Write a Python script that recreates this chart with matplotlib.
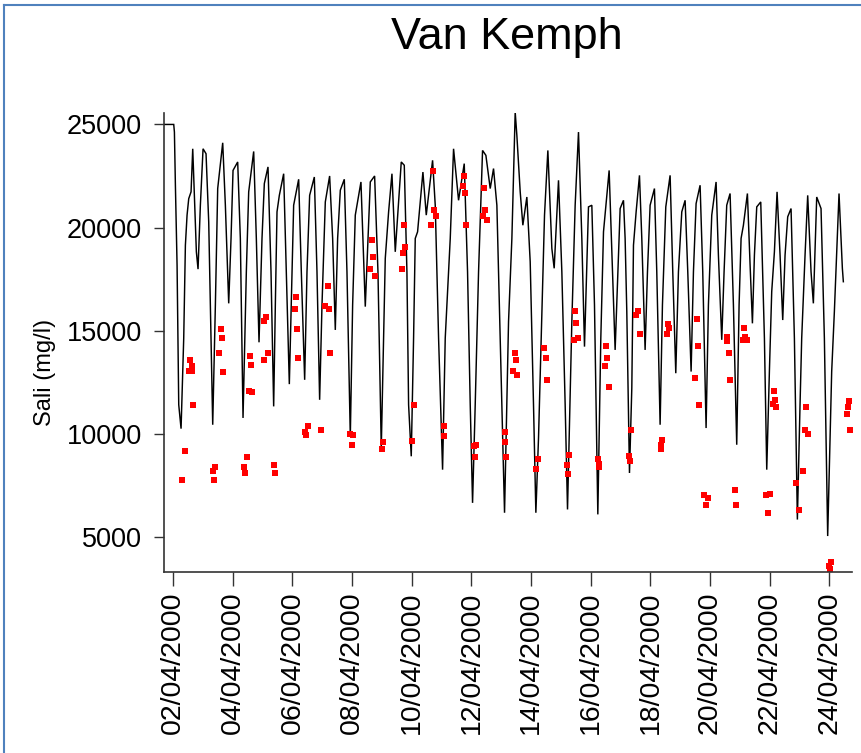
import matplotlib
matplotlib.use("Agg")
import matplotlib.pyplot as plt
import matplotlib.dates as mdates
from matplotlib.lines import Line2D
import numpy as np
import datetime as dt

plt.rcParams['font.family'] = ['Liberation Sans', 'DejaVu Sans']

# ---- data (days since 02/04/2000 00:00, salinity mg/l) ----
start_date = dt.datetime(2000, 4, 2)

line_days = [
    -0.292, 0.021, 0.044, 0.077, 0.133, 0.189, 0.267, 0.356, 0.412, 0.468, 0.524, 0.602, 0.658, 0.725,
    0.780, 0.836, 0.914, 1.004, 1.104, 1.194, 1.250, 1.328, 1.417, 1.495, 1.663, 1.752, 1.864, 1.942,
    2.009, 2.165, 2.254, 2.344, 2.455, 2.534, 2.701, 2.790, 2.880, 2.980, 3.058, 3.181, 3.282, 3.371,
    3.427, 3.483, 3.561, 3.706, 3.796, 3.896, 3.986, 4.041, 4.209, 4.298, 4.410, 4.488, 4.577, 4.734,
    4.823, 4.912, 4.991, 5.102, 5.247, 5.348, 5.437, 5.515, 5.605, 5.739, 5.828, 5.940, 6.018, 6.107,
    6.297, 6.364, 6.442, 6.532, 6.610, 6.755, 6.867, 6.978, 7.112, 7.224, 7.336,
    7.447, 7.648, 7.749, 7.838, 7.894, 7.983, 8.061, 8.117, 8.195, 8.374, 8.486, 8.698, 8.787, 8.899,
    9.033, 9.122, 9.290, 9.401, 9.569, 9.759, 9.870, 9.960, 10.038, 10.127, 10.239, 10.373, 10.485,
    10.630, 10.741, 10.853, 10.965, 11.110,
    11.244, 11.356, 11.467, 11.523, 11.635, 11.724, 11.858, 11.970, 12.081, 12.160, 12.249, 12.338,
    12.450, 12.562, 12.696, 12.774, 12.919, 13.031, 13.142, 13.221, 13.366, 13.477, 13.589, 13.701,
    13.790, 13.924, 14.036, 14.125, 14.237, 14.337, 14.427, 14.616, 14.728, 14.817, 14.985,
    15.097, 15.152, 15.208, 15.298, 15.376, 15.432, 15.521, 15.633, 15.711, 15.822, 15.901, 15.990,
    16.135, 16.213, 16.325, 16.403, 16.515, 16.660, 16.749, 16.850, 16.939, 17.051, 17.163, 17.252,
    17.364, 17.442, 17.531, 17.665, 17.754, 17.866, 17.944, 18.056, 18.201, 18.279, 18.391, 18.469,
    18.558, 18.670, 18.782, 18.893,
    18.972, 19.039, 19.117, 19.251, 19.341, 19.419, 19.486, 19.564, 19.698, 19.821, 19.899, 19.988,
    20.066, 20.156, 20.245, 20.346, 20.435, 20.513, 20.602, 20.714, 20.826, 20.926, 21.015, 21.071,
    21.183, 21.272, 21.384, 21.462, 21.574, 21.719, 21.831, 21.942, 22.021, 22.076, 22.166, 22.322,
    22.434, 22.467,
]
line_sali = [
    25000, 25000, 24630, 22050, 18180, 11400, 10240, 14630, 19140, 20600, 21400, 21730, 23820, 21080,
    18820, 17980, 21080, 23820, 23580, 20270, 16240, 10430, 16240, 21890, 24110, 21080, 16320, 19470,
    22770, 23180, 19470, 10760, 17850, 21730, 23690, 19470, 14430, 19470, 22130, 22940, 17850, 11320,
    16240, 20760, 21560, 22610, 17850, 12400, 17850, 21080, 22340, 17850, 12610, 17850, 21560, 22450,
    17850, 11640, 16240, 21240, 22500, 19470, 15030, 19470, 21810, 22340, 17850, 9870, 16240, 20600,
    22210, 19470, 16160, 19470, 22210, 22500, 17850, 9300, 18500, 20760, 22610,
    18820, 23180, 23020, 17850, 11400, 8900, 14630, 19470, 19790, 22690, 20600, 23260, 21080, 14630,
    8250, 14630, 19470, 23820, 21320, 23100, 17850, 11400, 6640, 11400, 17850, 23740, 23500,
    21890, 22860, 21080, 14630, 6160,
    15430, 19470, 25600, 24470, 21730, 20110, 21480, 18340, 11400, 6160, 9790, 14630,
    20600, 23740, 18980, 18020, 22290, 17850, 11400, 6320, 15430, 21080, 24630, 19470,
    14220, 21000, 21080, 16240, 6080, 14630, 19790, 22770, 17850, 14060, 20920,
    21320, 19470, 15920, 8090, 12210, 19140, 20760, 22530, 19470, 14060, 17850, 21080,
    21890, 17850, 10430, 16240, 21000, 22530, 17850, 12930, 17850, 20760, 21320, 17850,
    13010, 17850, 21160, 22050, 17850, 10270, 16240, 20600, 22210, 18660, 14550, 17850,
    21080, 21650, 16240, 9460,
    16240, 19470, 20110, 21650, 18180, 15350, 18660, 21000, 21240, 14630, 8250, 13010,
    16890, 18820, 21730, 18660, 15510, 18660, 20520, 20920, 14630, 5830, 11400, 14630,
    18660, 21560, 17850, 16320, 21480, 20920, 14630, 5030, 9790, 13010, 15920, 21650,
    18020, 17370,
]

obs_days = [
    0.580, 0.624, 0.524, 0.635, 0.658, 0.390, 0.300, 1.596, 1.640, 1.529, 1.674, 1.417, 1.339, 1.372,
    2.567, 2.612, 2.534, 2.645, 2.467, 2.388, 2.422, 3.114, 3.058, 3.181, 3.036, 3.371, 3.427,
    4.131, 4.086, 4.164, 4.198, 4.510, 4.432, 4.466, 5.180, 5.102, 5.214, 5.259, 4.957, 6.018, 5.940,
    6.007, 6.654, 6.699, 6.610, 6.755, 7.023, 6.989,
    7.749, 7.782, 7.704, 7.671, 8.084, 8.006, 8.698, 8.754, 8.810, 8.653, 9.066, 9.066, 9.736, 9.703,
    9.792, 9.826, 10.094, 10.161, 10.127, 10.429, 10.462, 10.373, 10.518, 11.110, 11.132, 11.166,
    11.445, 11.478, 11.400, 11.523, 12.227, 12.171, 12.439, 12.495, 12.528, 13.477, 13.511, 13.444,
    13.589, 13.287, 13.198, 13.221, 14.527, 14.561, 14.482, 14.605, 14.237, 14.293, 14.270,
    15.599, 15.521, 15.655, 15.354, 15.287, 15.320, 16.582, 16.549, 16.627, 16.403, 16.347, 16.370,
    17.576, 17.609, 17.509, 17.643, 17.810, 17.944, 17.855, 18.581, 18.558, 18.637, 18.670, 18.838,
    18.860,
    19.140, 19.184, 19.240, 19.117, 20.145, 20.178, 20.111, 20.212, 19.999, 19.888, 19.955, 21.228,
    21.194, 21.272, 21.127, 20.893, 20.971, 22.668, 22.635, 22.601, 22.691, 22.054, 21.998, 22.021,
]
obs_sali = [
    13550, 13300, 13060, 13060, 11400, 9140, 7740, 15080, 14660, 13890, 12970, 8370, 8170, 7740,
    13770, 13340, 12050, 12000, 8880, 8370, 8090, 15680, 15470, 13890, 13560, 8460, 8090,
    16640, 16060, 15080, 13660, 10350, 10080, 9950, 17140, 16180, 16060, 13930, 10190, 9950, 9980,
    9460, 19370, 18550, 17970, 17630, 9590, 9260,
    20140, 19030, 18770, 17970, 11400, 9660, 22760, 20840, 20580, 20140, 10350, 9870, 22480, 22020,
    21650, 20140, 9380, 9460, 8880, 21940, 20840, 20580, 20350, 10080, 9590, 8880,
    13930, 13550, 13060, 12850, 8770, 8290, 14140, 13660, 12580, 15950, 15350, 14550,
    14660, 8980, 8460, 8060, 14270, 13660, 13290, 12240, 8770, 8530, 8380,
    15970, 15760, 14850, 10190, 8900, 8690, 15320, 14850, 15110, 9670, 9460, 9270,
    15580, 14270, 12680, 11380, 7000, 6880, 6560, 14680, 14500, 13890, 12580, 7250,
    6560,
    15140, 14680, 14530, 14530, 12050, 11640, 11450, 11270, 7090, 7000, 6160, 11270,
    10190, 9980, 8170, 7580, 6270, 11560, 11270, 10950, 10190, 3770, 3580, 3420,
]

y_ticks = [5000, 10000, 15000, 20000, 25000]
title_text = "Van Kemph"
y_label = "Sali (mg/l)"

# ---- figure ----
W, H = 862, 753
fig = plt.figure(figsize=(W / 100, H / 100), dpi=100)
fig.patch.set_facecolor('white')

# blue frame (left and top)
fig.add_artist(Line2D([4.5 / W, 4.5 / W], [0, 1 - 5 / H], transform=fig.transFigure,
                      color='#4f81bd', lw=1.5))
fig.add_artist(Line2D([4.5 / W, 1], [1 - 5 / H, 1 - 5 / H], transform=fig.transFigure,
                      color='#4f81bd', lw=1.5))

left, right, bottom, top = 164 / W, 852 / W, 1 - 571.7 / H, 1 - 112.7 / H
ax = fig.add_axes([left, bottom, right - left, top - bottom])

base = mdates.date2num(start_date)
lx = base + np.array(line_days)
ox = base + np.array(obs_days)

ax.plot(lx, line_sali, color='black', lw=1.05, solid_joinstyle='miter')
ax.plot(ox, obs_sali, linestyle='none', marker='s', ms=4.1, color='red', mec='red', mew=0)

ax.set_xlim(base - 0.305, base + 22.757)
ax.set_ylim(3300, 25570)

ax.xaxis.set_major_locator(mdates.DayLocator(bymonthday=list(range(2, 31, 2))))
ax.xaxis.set_major_formatter(mdates.DateFormatter('%d/%m/%Y'))
ax.set_yticks(y_ticks)
ax.set_yticklabels([str(v) for v in y_ticks])

for lab in ax.get_xticklabels():
    lab.set_rotation(90)

ax.tick_params(axis='x', direction='out', length=10, width=1.0, color='#333333',
               labelsize=20.5, pad=4)
ax.tick_params(axis='y', direction='out', length=7, width=1.0, color='#333333',
               labelsize=19.5, pad=9)

for s in ['top', 'right']:
    ax.spines[s].set_visible(False)
for s in ['left', 'bottom']:
    ax.spines[s].set_color('#333333')
    ax.spines[s].set_linewidth(1.2)

fig.text(507 / W, 1 - 38 / H, title_text, ha='center', va='center', fontsize=32.4)
fig.text(45 / W, 1 - 372 / H, y_label, ha='center', va='center', rotation=90, fontsize=17)

fig.savefig('out.png', dpi=100, facecolor='white')
